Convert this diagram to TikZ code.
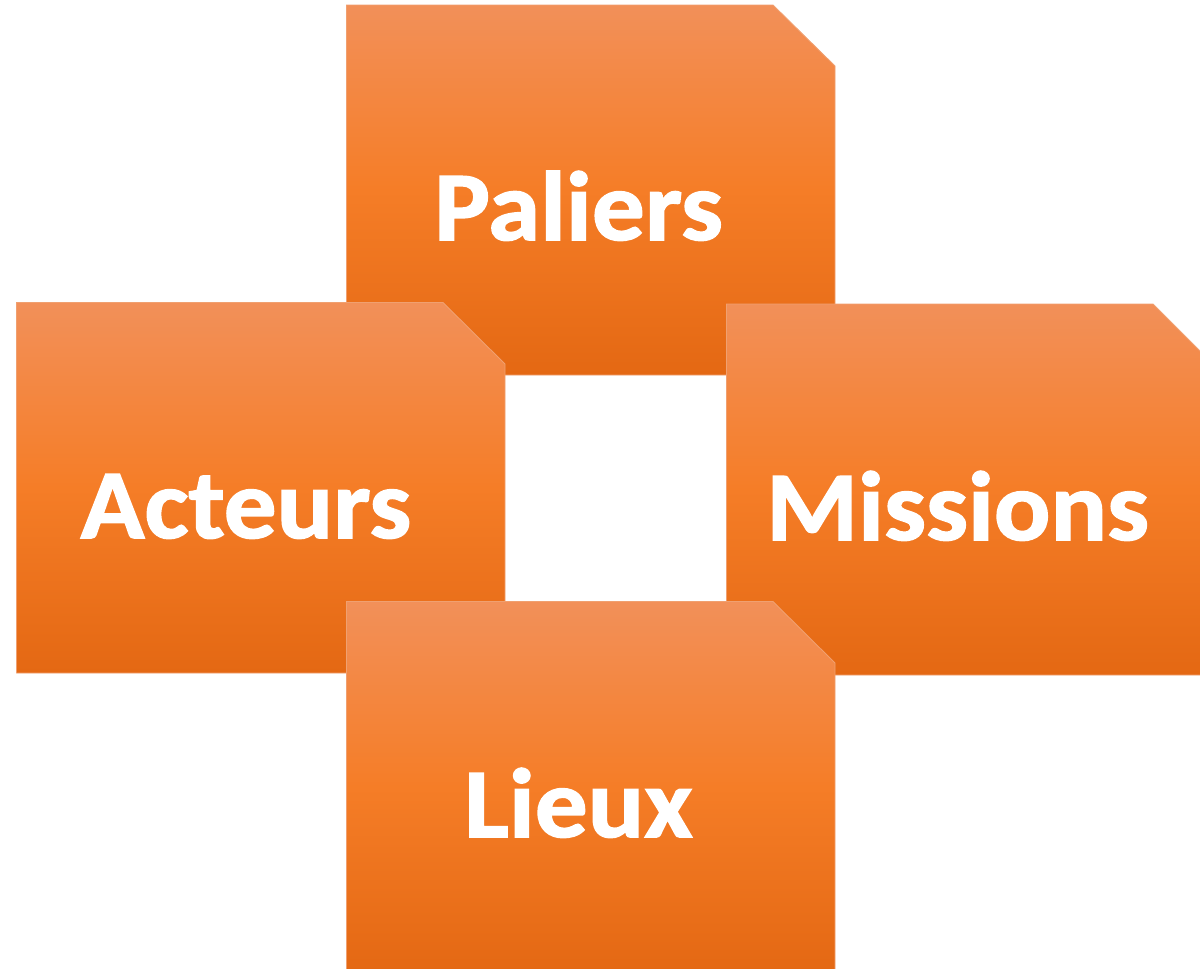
\documentclass[tikz,border=0pt]{standalone}
\usepackage{fontspec}
\setmainfont{Carlito}[BoldFeatures={FakeBold=1.5,FakeStretch=1.07}]
\definecolor{cTop}{HTML}{F29059}
\definecolor{cMid}{HTML}{F57D27}
\definecolor{cBot}{HTML}{E46813}
\definecolor{cEdge}{HTML}{F0A070}
\pgfdeclareverticalshading{tileshade}{100bp}{color(0bp)=(cBot); color(25bp)=(cBot); color(50bp)=(cMid); color(75bp)=(cTop); color(100bp)=(cTop)}
\tikzset{
  tile/.style={shading=tileshade, draw=cEdge, line width=0.5pt},
  tilelabel/.style={text=white, font=\fontsize{56}{56}\selectfont\bfseries, inner sep=0pt, anchor=base}
}
\begin{document}
\begin{tikzpicture}[x=0.02cm,y=-0.02cm]
\useasboundingbox (0,0) rectangle (1200,968);
\clip (0,0) rectangle (1200,968);
\path[tile] (346.5,5) -- (773,5) -- (835,66) -- (835,375) -- (346.5,375) -- cycle;
\path[tile] (16.5,302.5) -- (443,302.5) -- (505,364) -- (505,673) -- (16.5,673) -- cycle;
\path[tile] (726.5,304) -- (1153,304) -- (1215,366) -- (1215,675) -- (726.5,675) -- cycle;
\path[tile] (346.5,601.5) -- (773,601.5) -- (835,663) -- (835,972) -- (346.5,972) -- cycle;
\node[tilelabel] (paliers) at (578.5,240) {Paliers};
\node[tilelabel] (acteurs) at (246,538) {Acteurs};
\node[tilelabel] (missions) at (957.5,540) {Missions};
\node[tilelabel] (lieux) at (578.5,837) {Lieux};
\end{tikzpicture}
\end{document}
